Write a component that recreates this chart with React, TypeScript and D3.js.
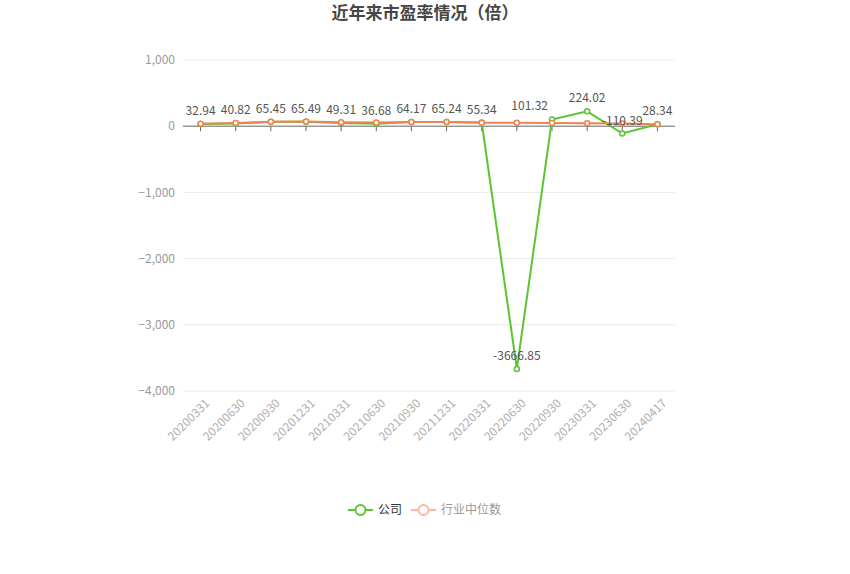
import React from "react";
import * as d3 from "d3";

const categories = ["20200331","20200630","20200930","20201231","20210331","20210630","20210930","20211231","20220331","20220630","20220930","20230331","20230630","20240417"];
const companyPE = [32.94,40.82,65.45,65.49,49.31,36.68,64.17,65.24,55.34,-3666.85,101.32,224.02,-110.39,28.34];
const industryPE = [38,48,66,72,60,55,62,62,52,52,48,46,42,30];
const yTicks = [1000,0,-1000,-2000,-3000,-4000];
const seriesNames = ["公司","行业中位数"];

const W = 850, H = 574;
const GREEN = "#5cc432";
const ORANGE = "#f0834f";

export default function App() {
  const x = d3.scaleBand<string>().domain(categories).range([183, 675]);
  const cx = (c: string) => (x(c) as number) + x.bandwidth() / 2;
  const y = d3.scaleLinear().domain([-4000, 1000]).range([391, 60]);
  const fmt = d3.format(",");
  const line = d3.line<number>().x((_, i) => cx(categories[i])).y((d) => y(d));

  return (
    <svg width={W} height={H} style={{ position: "absolute", left: 0, top: 0, fontFamily: "'Microsoft YaHei', 'Noto Sans CJK SC', sans-serif" }}>
      <rect width={W} height={H} fill="#fff" />
      <text x={425} y={19} textAnchor="middle" fontSize={17} fontWeight="bold" fill="#464646">近年来市盈率情况（倍）</text>
      {yTicks.map((t) => (
        <g key={t}>
          {t !== 0 && <line x1={183} x2={675} y1={y(t)} y2={y(t)} stroke="#e8ebf3" />}
          <text x={175} y={y(t)} dy="0.35em" textAnchor="end" fontSize={12} fill="#9a9a9a">{fmt(t)}</text>
        </g>
      ))}
      <line x1={183} x2={675} y1={y(0)} y2={y(0)} stroke="#666" />
      {categories.map((c) => (
        <g key={c}>
          <line x1={cx(c)} x2={cx(c)} y1={y(0)} y2={y(0) + 5} stroke="#666" />
          <text transform={`translate(${cx(c) + 4},${398}) rotate(-45)`} textAnchor="end" dy="0.7em" fontSize={12} fill="#b0b0b0">{c}</text>
        </g>
      ))}
      <path d={line(companyPE) || ""} fill="none" stroke={GREEN} strokeWidth={2} />
      {companyPE.map((v, i) => (
        <circle key={"g" + i} cx={cx(categories[i])} cy={y(v)} r={2.5} fill="#fff" stroke={GREEN} strokeWidth={1.5} />
      ))}
      <path d={line(industryPE) || ""} fill="none" stroke={ORANGE} strokeWidth={2} />
      {industryPE.map((v, i) => (
        <circle key={"o" + i} cx={cx(categories[i])} cy={y(v)} r={2.5} fill="#fff" stroke={ORANGE} strokeWidth={1.5} />
      ))}
      {companyPE.map((v, i) => {
        const shiftLeft = v > 0 && i < companyPE.length - 1 && companyPE[i + 1] > v + 50;
        return (
          <text key={"l" + i} x={cx(categories[i]) + (shiftLeft ? -4 : 0)} y={y(v) - 9} textAnchor={shiftLeft ? "end" : "middle"} fontSize={12} fill="#555">{v.toFixed(2)}</text>
        );
      })}
      <g>
        <line x1={348} x2={373} y1={510} y2={510} stroke={GREEN} strokeWidth={2} />
        <circle cx={360.5} cy={510} r={5} fill="#fff" stroke={GREEN} strokeWidth={2} />
        <text x={378} y={510} dy="0.35em" fontSize={12} fill="#333">{seriesNames[0]}</text>
        <line x1={411} x2={436} y1={510} y2={510} stroke="#fbb9a0" strokeWidth={2} />
        <circle cx={423.5} cy={510} r={5} fill="#fff" stroke="#fbb9a0" strokeWidth={2} />
        <text x={441} y={510} dy="0.35em" fontSize={12} fill="#999">{seriesNames[1]}</text>
      </g>
    </svg>
  );
}
